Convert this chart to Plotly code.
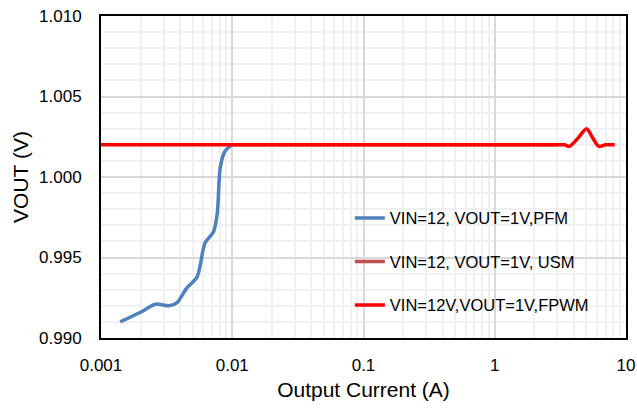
import plotly.graph_objects as go

FONT = "Liberation Sans, Arial, sans-serif"

# PFM series
pfm_current = [0.0014, 0.0020, 0.0026, 0.0033, 0.0038, 0.0045, 0.0054, 0.0062, 0.0072, 0.0077, 0.0081, 0.0088, 0.0099]
pfm_vout = [0.9910, 0.9916, 0.9921, 0.9920, 0.9922, 0.9931, 0.9938, 0.9959, 0.9966, 0.9978, 1.0006, 1.0016, 1.0020]

# USM series (hidden under FPWM)
usm_current = [0.01, 0.03, 0.1, 0.3, 1.0, 3.0]
usm_vout = [1.0020, 1.0020, 1.0020, 1.0020, 1.0020, 1.0020]

# FPWM series
fpwm_current = [0.001, 0.01, 0.1, 1.0, 2.0, 3.0, 3.4, 3.7, 4.3, 5.0, 5.6, 6.2, 7.0, 8.2]
fpwm_vout = [1.0020, 1.0020, 1.0020, 1.0020, 1.0020, 1.0020, 1.0020, 1.0019, 1.0024, 1.0030, 1.0024, 1.0019, 1.0020, 1.0020]

names = ["VIN=12, VOUT=1V,PFM", "VIN=12, VOUT=1V, USM", "VIN=12V,VOUT=1V,FPWM"]
colors = ["#4F81BD", "#C0504D", "#FF0000"]

x_tickvals = [0.001, 0.01, 0.1, 1, 10]
x_ticktext = ["0.001", "0.01", "0.1", "1", "10"]

fig = go.Figure()
series = [(pfm_current, pfm_vout), (usm_current, usm_vout), (fpwm_current, fpwm_vout)]
for i, ((xs, ys), name, col) in enumerate(zip(series, names, colors)):
    fig.add_trace(go.Scatter(
        x=xs, y=ys, mode="lines", name=name,
        line=dict(color=col, width=3.5, shape="spline", smoothing=0.8),
        legendgroup=f"g{i}",
    ))

# white panel behind the legend (covers grid like the original)
fig.add_shape(type="rect", xref="paper", yref="paper",
              x0=0.423, x1=0.97, y0=0.034, y1=0.447,
              fillcolor="white", line=dict(width=0), layer="between")

fig.update_layout(
    width=637, height=408,
    margin=dict(l=101, r=11, t=16, b=70, autoexpand=False),
    paper_bgcolor="white", plot_bgcolor="white",
    font=dict(family=FONT, color="black", size=17),
    showlegend=True,
    legend=dict(
        x=0.474, y=0.426, xanchor="left", yanchor="top",
        bgcolor="rgba(0,0,0,0)", borderwidth=0,
        font=dict(family=FONT, size=16.5, color="black"),
        tracegroupgap=19,
        itemwidth=30,
    ),
)

fig.update_xaxes(
    type="log", range=[-3, 1],
    tickvals=x_tickvals, ticktext=x_ticktext,
    tickfont=dict(size=17),
    showgrid=True, gridcolor="#D9D9D9", gridwidth=2,
    minor=dict(dtick="D1", showgrid=True, gridcolor="#F0F0F0", gridwidth=2, ticks=""),
    showline=True, linecolor="black", linewidth=2, mirror=True,
    ticks="", zeroline=False, ticklabelstandoff=11, ticklabeloverflow="allow",
    title=dict(text="Output Current (A)", font=dict(size=21), standoff=8),
    automargin=False,
)
fig.update_yaxes(
    range=[0.990, 1.010], dtick=0.005, tick0=0.990, tickformat=".3f",
    tickfont=dict(size=17),
    showgrid=True, gridcolor="#D9D9D9", gridwidth=2,
    minor=dict(dtick=0.001, showgrid=True, gridcolor="#F0F0F0", gridwidth=2, ticks=""),
    showline=True, linecolor="black", linewidth=2, mirror=True,
    ticks="", zeroline=False, ticklabelstandoff=14, ticklabeloverflow="allow",
    title=dict(text="VOUT (V)", font=dict(size=21), standoff=5),
    automargin=False,
)

fig.write_html("out.html", config={"displayModeBar": False},
               post_script="document.body.style.margin='0';")
